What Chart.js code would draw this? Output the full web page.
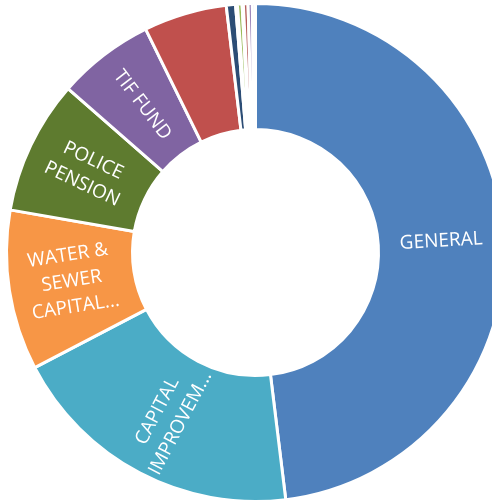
<!DOCTYPE html>
<html>
<head>
<meta charset="utf-8">
<script src="https://cdn.jsdelivr.net/npm/chart.js@4/dist/chart.umd.min.js"></script>
<style>
  html, body { margin: 0; padding: 0; background: #fff; overflow: hidden; }
  #wrap { position: relative; width: 492px; height: 502px; overflow: hidden; }
  #fundChart { position: absolute; left: 0; top: 0; }
</style>
</head>
<body>
<div id="wrap"><canvas id="fundChart" width="511" height="505"></canvas></div>
<script>
// share of total, by fund (percent)
var funds = ["GENERAL", "CAPITAL IMPROVEMENTS", "WATER & SEWER CAPITAL", "POLICE PENSION", "TIF FUND",
  "WATER & SEWER", "MOTOR FUEL TAX", "DEBT SERVICE", "REFUSE", "LIBRARY", "FIRE PENSION", "SSA", "IMRF"];
var shares = [48.1, 19.3, 10.4, 8.7, 6.3, 5.4, 0.6, 0.12, 0.3, 0.08, 0.3, 0.28, 0.2];
// text shown on the ring, one entry per line; empty = no label
var ringLabels = [["GENERAL"], ["CAPITAL", "IMPROVEM..."], ["WATER &", "SEWER", "CAPITAL..."],
  ["POLICE", "PENSION"], ["TIF FUND"], [], [], [], [], [], [], [], []];
var colors = ["#4F81BD", "#4BACC6", "#F79646", "#5E7B2F", "#8064A2", "#C0504D", "#2C4D75",
  "#E4ECF7", "#9BBB59", "#F2DCDB", "#B65F5C", "#9E88BC", "#A6B2C8"];

var ringText = {
  id: "ringText",
  afterDatasetsDraw: function(chart) {
    var ctx = chart.ctx;
    var arcs = chart.getDatasetMeta(0).data;
    ctx.save();
    ctx.fillStyle = "#fff";
    ctx.font = "19px 'Open Sans'";
    ctx.textAlign = "center";
    ctx.textBaseline = "middle";
    arcs.forEach(function(arc, i) {
      var lines = ringLabels[i];
      if (!lines || !lines.length) return;
      var p = arc.tooltipPosition();
      var mid = (arc.startAngle + arc.endAngle) / 2;
      var rot = Math.cos(mid) < 0 ? mid + Math.PI : mid;
      var lh = 26;
      ctx.save();
      ctx.translate(p.x, p.y);
      ctx.rotate(rot);
      lines.forEach(function(t, k) {
        ctx.fillText(t, 0, (k - (lines.length - 1) / 2) * lh);
      });
      ctx.restore();
    });
    ctx.restore();
  }
};

new Chart(document.getElementById("fundChart"), {
  type: "doughnut",
  data: {
    labels: funds,
    datasets: [{
      data: shares,
      backgroundColor: colors,
      borderColor: "#fff",
      borderWidth: 3
    }]
  },
  options: {
    responsive: false,
    animation: false,
    radius: 249,
    cutout: 124,
    layout: { padding: 0 },
    plugins: {
      legend: { display: false },
      tooltip: { enabled: false }
    }
  },
  plugins: [ringText]
});
</script>
</body>
</html>
